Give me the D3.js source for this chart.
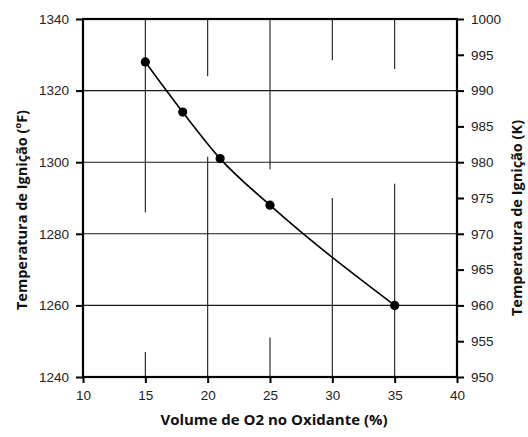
<!DOCTYPE html>
<html>
<head>
<meta charset="utf-8">
<script src="https://cdn.jsdelivr.net/npm/d3@7"></script>
<style>
  html, body { margin: 0; padding: 0; background: #fff; }
  svg { display: block; }
</style>
</head>
<body>
<div id="chart"></div>
<script>
// Ignition temperature vs. O2 volume fraction in the oxidant
const o2Percent = [15, 18, 21, 25, 35];
const ignitionF = [1328, 1314, 1301, 1288, 1260];

const xTicks = [10, 15, 20, 25, 30, 35, 40];
const yTicksF = [1240, 1260, 1280, 1300, 1320, 1340];
const yTicksK = [950, 955, 960, 965, 970, 975, 980, 985, 990, 995, 1000];

const xTitle = "Volume de O2 no Oxidante (%)";
const yTitleF = "Temperatura de Ignição (ºF)";
const yTitleK = "Temperatura de Ignição (K)";

// Visible stretches of the vertical grid lines (in °F)
const vGridSpans = {
  15: [[1340, 1286], [1247, 1240]],
  20: [[1340, 1324], [1301.5, 1240]],
  25: [[1340, 1298], [1251, 1240]],
  30: [[1340, 1328.5], [1290, 1240]],
  35: [[1340, 1326], [1294, 1240]]
};

const W = 528, H = 437;
const m = { left: 83, right: 71, top: 19, bottom: 60 };

const svg = d3.select("#chart").append("svg")
  .attr("width", W).attr("height", H);

const x = d3.scaleLinear().domain([10, 40]).range([m.left, W - m.right]);
const y = d3.scaleLinear().domain([1240, 1340]).range([H - m.bottom, m.top]);
const yK = d3.scaleLinear().domain([950, 1000]).range([H - m.bottom, m.top]);

const tickFont = "'Liberation Sans', Arial, sans-serif";
const titleFont = "'Open Sans', 'Noto Sans', sans-serif";
const fmt = d3.format("d");

// Horizontal grid
svg.append("g").selectAll("line")
  .data(yTicksF.filter(v => v > 1240 && v < 1340))
  .join("line")
  .attr("x1", x(10)).attr("x2", x(40))
  .attr("y1", d => y(d)).attr("y2", d => y(d))
  .attr("stroke", "#1a1a1a").attr("stroke-width", 1.1);

// Vertical grid
const vg = svg.append("g");
Object.entries(vGridSpans).forEach(([k, spans]) => {
  spans.forEach(s => {
    vg.append("line")
      .attr("x1", x(+k)).attr("x2", x(+k))
      .attr("y1", y(s[0])).attr("y2", y(s[1]))
      .attr("stroke", "#1a1a1a").attr("stroke-width", 1.1);
  });
});

// Axes
const bottomAxis = d3.axisBottom(x).tickValues(xTicks).tickFormat(fmt).tickSize(6).tickPadding(7);
const leftAxis = d3.axisLeft(y).tickValues(yTicksF).tickFormat(fmt).tickSize(7).tickPadding(7);
const rightAxis = d3.axisRight(yK).tickValues(yTicksK).tickFormat(fmt).tickSize(7).tickPadding(7);

function styleAxis(g) {
  g.select(".domain").remove();
  g.selectAll(".tick line").attr("stroke", "#000").attr("stroke-width", 2);
  g.selectAll(".tick text")
    .attr("fill", "#222")
    .style("font-family", tickFont)
    .style("font-size", "13.5px");
}

svg.append("g").attr("transform", `translate(0,${y(1240)})`).call(bottomAxis).call(styleAxis);
svg.append("g").attr("transform", `translate(${x(10)},0)`).call(leftAxis).call(styleAxis);
svg.append("g").attr("transform", `translate(${x(40)},0)`).call(rightAxis).call(styleAxis);

// Frame
svg.append("rect")
  .attr("x", x(10)).attr("y", y(1340))
  .attr("width", x(40) - x(10)).attr("height", y(1240) - y(1340))
  .attr("fill", "none").attr("stroke", "#000").attr("stroke-width", 2.2);

// Data line and markers
const pts = o2Percent.map((v, i) => [v, ignitionF[i]]);
const line = d3.line().x(d => x(d[0])).y(d => y(d[1])).curve(d3.curveMonotoneX);

svg.append("path")
  .datum(pts)
  .attr("d", line)
  .attr("fill", "none")
  .attr("stroke", "#000")
  .attr("stroke-width", 1.6);

svg.append("g").selectAll("circle")
  .data(pts)
  .join("circle")
  .attr("cx", d => x(d[0])).attr("cy", d => y(d[1]))
  .attr("r", 4.6)
  .attr("fill", "#000");

// Titles
svg.append("text")
  .attr("x", 274).attr("y", 425)
  .attr("text-anchor", "middle")
  .style("font-family", titleFont).style("font-weight", "bold").style("font-size", "15px")
  .attr("fill", "#111")
  .text(xTitle);

svg.append("text")
  .attr("transform", `translate(27,210) rotate(-90)`)
  .attr("text-anchor", "middle")
  .style("font-family", titleFont).style("font-weight", "bold").style("font-size", "14.5px")
  .attr("fill", "#111")
  .text(yTitleF);

svg.append("text")
  .attr("transform", `translate(522,218) rotate(-90)`)
  .attr("text-anchor", "middle")
  .style("font-family", titleFont).style("font-weight", "bold").style("font-size", "14.5px")
  .attr("fill", "#111")
  .text(yTitleK);
</script>
</body>
</html>
